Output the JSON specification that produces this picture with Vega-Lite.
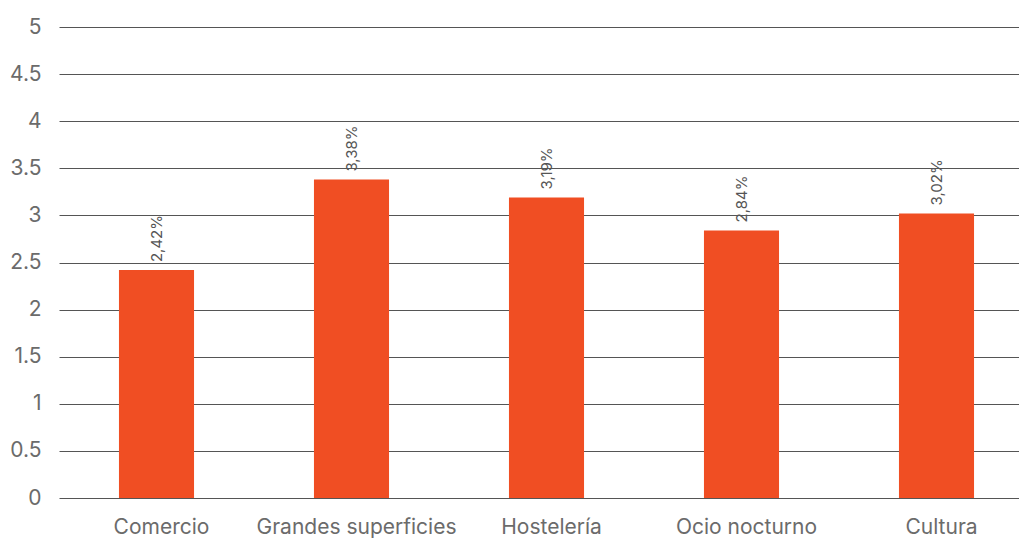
{
  "$schema": "https://vega.github.io/schema/vega-lite/v6.json",
  "autosize": "none",
  "width": 975,
  "height": 471,
  "padding": {"left": 59, "top": 27, "right": 0, "bottom": 40},
  "background": "white",
  "config": {"view": {"stroke": null}, "font": "Inter"},
  "data": {"values": [
    {"categoria": "Comercio", "valor": 2.42, "etiqueta": "2,42%"},
    {"categoria": "Grandes superficies", "valor": 3.38, "etiqueta": "3,38%"},
    {"categoria": "Hostelería", "valor": 3.19, "etiqueta": "3,19%"},
    {"categoria": "Ocio nocturno", "valor": 2.84, "etiqueta": "2,84%"},
    {"categoria": "Cultura", "valor": 3.02, "etiqueta": "3,02%"}
  ]},
  "encoding": {
    "x": {"field": "categoria", "type": "nominal", "sort": null,
      "scale": {"paddingInner": 0.615, "paddingOuter": 0.3075},
      "axis": {"title": null, "labelAngle": 0, "labelFontSize": 21, "labelColor": "#6b6b6b", "ticks": false, "domain": false, "labelPadding": 18, "labelOffset": 5, "labelLimit": 0, "labelFont": "Inter"}},
    "y": {"field": "valor", "type": "quantitative",
      "scale": {"domain": [0, 5]},
      "axis": {"title": null, "values": [0, 0.5, 1, 1.5, 2, 2.5, 3, 3.5, 4, 4.5, 5], "format": "~g", "labelFontSize": 21, "labelColor": "#6b6b6b", "ticks": false, "domain": false, "labelPadding": 18, "gridColor": "#555555", "gridWidth": 1, "labelFont": "Inter"}}
  },
  "layer": [
    {"mark": {"type": "bar", "color": "#F04E23"}},
    {"mark": {"type": "text", "angle": -90, "align": "left", "baseline": "middle", "dx": 8, "fontSize": 15, "color": "#555555", "font": "Inter"},
      "encoding": {"text": {"field": "etiqueta"}}}
  ]
}
